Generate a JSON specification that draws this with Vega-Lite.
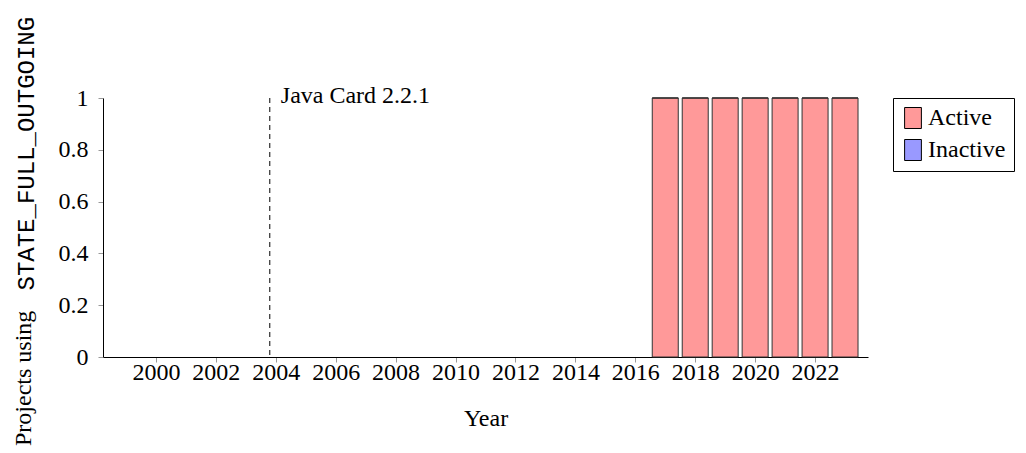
{
  "$schema": "https://vega.github.io/schema/vega-lite/v6.json",
  "autosize": "none",
  "width": 765,
  "height": 259,
  "padding": {"left": 103, "top": 98, "right": 158, "bottom": 96},
  "background": "white",
  "config": {
    "view": {"stroke": null},
    "font": "Liberation Serif, serif",
    "axis": {
      "grid": false,
      "labelFont": "Liberation Serif, serif",
      "labelFontSize": 24,
      "labelColor": "black",
      "titleFont": "Liberation Serif, serif",
      "titleFontSize": 24,
      "titleFontWeight": "normal",
      "titleColor": "black",
      "domainColor": "black",
      "domainWidth": 1,
      "tickColor": "#999999",
      "tickSize": 5
    }
  },
  "title": {
    "text": "Projects using",
    "orient": "left",
    "anchor": "start",
    "font": "Liberation Serif, serif",
    "fontSize": 24,
    "fontWeight": "normal",
    "color": "black",
    "offset": -22,
    "dx": -16
  },
  "layer": [
    {
      "data": {
        "values": [
          {"year": 2017, "status": "Active", "count": 1},
          {"year": 2017, "status": "Inactive", "count": 0},
          {"year": 2018, "status": "Active", "count": 1},
          {"year": 2018, "status": "Inactive", "count": 0},
          {"year": 2019, "status": "Active", "count": 1},
          {"year": 2019, "status": "Inactive", "count": 0},
          {"year": 2020, "status": "Active", "count": 1},
          {"year": 2020, "status": "Inactive", "count": 0},
          {"year": 2021, "status": "Active", "count": 1},
          {"year": 2021, "status": "Inactive", "count": 0},
          {"year": 2022, "status": "Active", "count": 1},
          {"year": 2022, "status": "Inactive", "count": 0},
          {"year": 2023, "status": "Active", "count": 1},
          {"year": 2023, "status": "Inactive", "count": 0}
        ]
      },
      "mark": {"type": "bar", "width": 26, "stroke": "#333333", "strokeWidth": 1, "opacity": 1},
      "encoding": {
        "x": {
          "field": "year",
          "type": "quantitative",
          "scale": {"domain": [1998.4, 2023.6], "nice": false, "zero": false},
          "axis": {
            "title": "Year",
            "values": [2000, 2002, 2004, 2006, 2008, 2010, 2012, 2014, 2016, 2018, 2020, 2022],
            "format": "d",
            "labelPadding": -2,
            "titlePadding": 22
          }
        },
        "y": {
          "field": "count",
          "type": "quantitative",
          "stack": "zero",
          "scale": {"domain": [0, 1], "nice": false},
          "axis": {
            "title": "STATE_FULL_OUTGOING",
            "titleFont": "Liberation Mono, monospace",
            "titleFontSize": 24,
            "titleAngle": -90,
            "titleAlign": "left",
            "titleBaseline": "alphabetic",
            "titleX": -70,
            "titleY": 192,
            "values": [0, 0.2, 0.4, 0.6, 0.8, 1],
            "format": ".1~f",
            "labelPadding": 10
          }
        },
        "color": {
          "field": "status",
          "type": "nominal",
          "scale": {"domain": ["Active", "Inactive"], "range": ["#ff9999", "#9999ff"]},
          "legend": {
            "title": null,
            "orient": "right",
            "offset": 25,
            "strokeColor": "black",
            "fillColor": "white",
            "padding": 8,
            "symbolType": "M-0.8,-1L0.8,-1L0.8,1L-0.8,1Z",
            "symbolSize": 441,
            "symbolStrokeColor": "black",
            "symbolStrokeWidth": 1,
            "symbolOpacity": 1,
            "labelFont": "Liberation Serif, serif",
            "labelFontSize": 24,
            "labelColor": "black",
            "labelOffset": 3,
            "rowPadding": 6
          }
        },
        "order": {"field": "status", "sort": "ascending"}
      }
    },
    {
      "data": {"values": [{"year": 2003.8, "level": 1, "label": "Java Card 2.2.1"}]},
      "mark": {"type": "rule", "strokeDash": [5, 4], "color": "black", "strokeWidth": 1},
      "encoding": {"x": {"field": "year", "type": "quantitative"}}
    },
    {
      "data": {"values": [{"year": 2003.8, "level": 1, "label": "Java Card 2.2.1"}]},
      "mark": {"type": "text", "align": "left", "baseline": "alphabetic", "dx": 11, "dy": 5, "font": "Liberation Serif, serif", "fontSize": 24, "color": "black"},
      "encoding": {
        "x": {"field": "year", "type": "quantitative"},
        "y": {"field": "level", "type": "quantitative"},
        "text": {"field": "label"}
      }
    }
  ]
}
